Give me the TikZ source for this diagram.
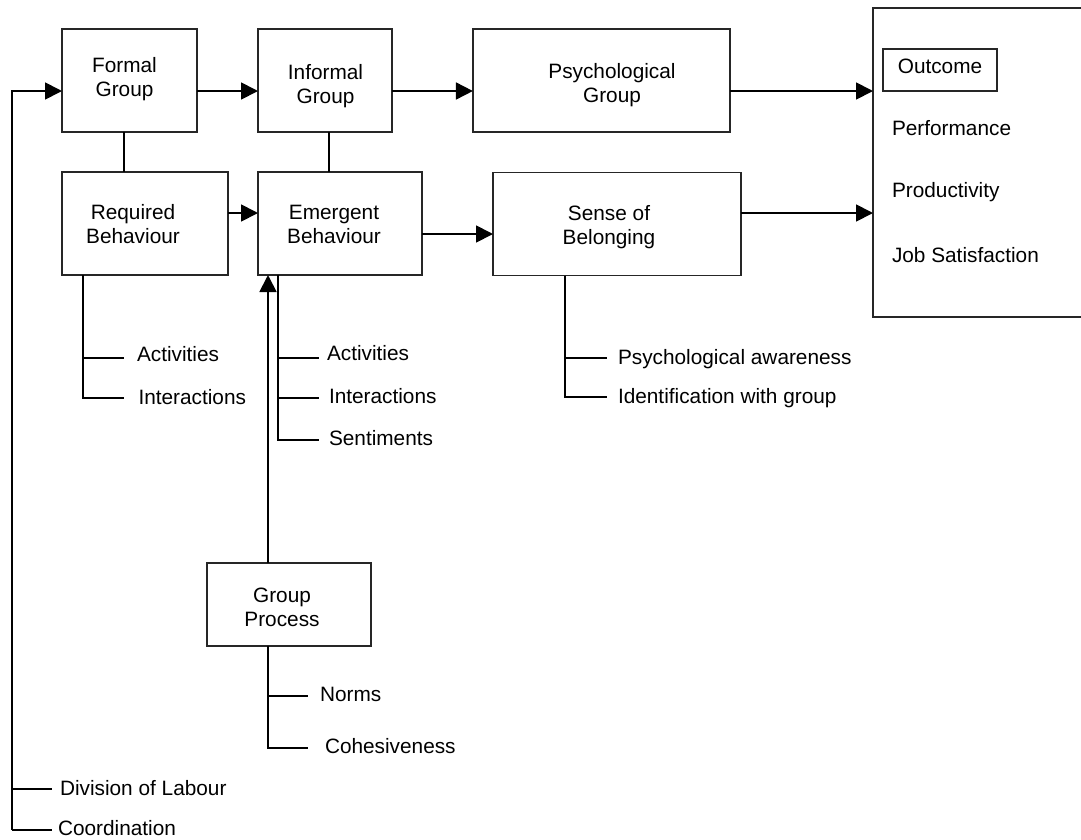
\documentclass[tikz,border=0pt]{standalone}
\usepackage{fontspec}
\setmainfont{Liberation Sans}
\usetikzlibrary{arrows.meta}
\newcommand\lp{\vphantom{Ag}}
\begin{document}
\begin{tikzpicture}[x=1pt,y=-1pt,
  every node/.style={font=\fontsize{20.8}{24}\selectfont, inner sep=0pt, outer sep=0pt},
  box/.style={draw, line width=1.3pt, color=black!85},
  ln/.style={line width=1.8pt},
  arr/.style={line width=1.8pt, -{Triangle[length=17pt,width=17pt]}},
  lbl/.style={anchor=base west},
  two/.style={align=center, anchor=center}]
\useasboundingbox (0,0) rectangle (1081,839);

% boxes
\node[box, minimum width=135pt, minimum height=103pt] (formal) at (129.5,80.5) {};
\node[box, minimum width=134pt, minimum height=103pt] (informal) at (325,80.5) {};
\node[box, minimum width=257pt, minimum height=103pt] (psych) at (601.4,80.5) {};
\node[box, minimum width=166pt, minimum height=103pt] (required) at (145,223.5) {};
\node[box, minimum width=164pt, minimum height=103pt] (emergent) at (340,223.5) {};
\node[box, minimum width=248pt, minimum height=103pt] (sense) at (617,224.2) {};
\node[box, minimum width=164pt, minimum height=83pt] (group) at (289,604.5) {};
\node[box, minimum width=210pt, minimum height=309pt] (outcome) at (978,162.5) {};
\node[box, minimum width=114pt, minimum height=42pt] (outhead) at (940,70) {};

% box texts
\node[two] (formal-t) at (124.5,79.4) {\lp Formal\\\lp Group};
\node[two] (informal-t) at (325.5,86) {\lp Informal\\\lp Group};
\node[two] (psych-t) at (612,84.8) {\lp Psychological\\\lp Group};
\node[two] (required-t) at (133,226) {\lp Required\\\lp Behaviour};
\node[two] (emergent-t) at (334,226.8) {\lp Emergent\\\lp Behaviour};
\node[two] (sense-t) at (609,227.3) {\lp Sense of\\\lp Belonging};
\node[two] (group-t) at (282,609.5) {\lp Group\\\lp Process};
\node[anchor=base] (outhead-t) at (940,73.5) {Outcome};
\node[lbl] (perf) at (892,135) {Performance};
\node[lbl] (prod) at (892,197) {Productivity};
\node[lbl] (jobs) at (892,262) {Job Satisfaction};

% helper coordinates
\coordinate (yTop) at (0,91);
\coordinate (yMid) at (0,213);
\coordinate (yES) at (0,234);
\coordinate (xFR) at (124,0);
\coordinate (xIE) at (329,0);
\coordinate (xRq) at (83,0);
\coordinate (xEm) at (278,0);
\coordinate (xUp) at (268,0);
\coordinate (xSe) at (565,0);
\coordinate (xGp) at (268,0);

% main arrows
\draw[arr] (formal.east |- yTop) -- (informal.west |- yTop);
\draw[arr] (informal.east |- yTop) -- (psych.west |- yTop);
\draw[arr] (psych.east |- yTop) -- (outcome.west |- yTop);
\draw[arr] (required.east |- yMid) -- (emergent.west |- yMid);
\draw[arr] (emergent.east |- yES) -- (sense.west |- yES);
\draw[arr] (sense.east |- yMid) -- (outcome.west |- yMid);
\draw[arr] (group.north -| xUp) -- (emergent.south -| xUp);

% vertical links
\draw[ln] (formal.south -| xFR) -- (required.north -| xFR);
\draw[ln] (informal.south -| xIE) -- (emergent.north -| xIE);

% required behaviour branches
\coordinate (rq1) at (124,358);
\coordinate (rq2) at (124,398);
\draw[ln] (required.south -| xRq) |- (rq1);
\draw[ln] (required.south -| xRq) |- (rq2);
\node[lbl] (rq-act) at (137,361.7) {Activities};
\node[lbl] (rq-int) at (138.5,404) {Interactions};

% emergent behaviour branches
\coordinate (em1) at (319,358);
\coordinate (em2) at (319,398);
\coordinate (em3) at (319,440);
\draw[ln] (emergent.south -| xEm) |- (em1);
\draw[ln] (emergent.south -| xEm) |- (em2);
\draw[ln] (emergent.south -| xEm) |- (em3);
\node[lbl] (em-act) at (327,360.5) {Activities};
\node[lbl] (em-int) at (329,403.3) {Interactions};
\node[lbl] (em-sen) at (329,445) {Sentiments};

% sense of belonging branches
\coordinate (se1) at (607,358);
\coordinate (se2) at (607,397);
\draw[ln] (sense.south -| xSe) |- (se1);
\draw[ln] (sense.south -| xSe) |- (se2);
\node[lbl] (se-aw) at (618,364) {Psychological awareness};
\node[lbl] (se-id) at (618,403.3) {Identification with group};

% group process branches
\coordinate (gp1) at (308,696);
\coordinate (gp2) at (308,748);
\draw[ln] (group.south -| xGp) |- (gp1);
\draw[ln] (group.south -| xGp) |- (gp2);
\node[lbl] (gp-norms) at (320,701) {Norms};
\node[lbl] (gp-coh) at (325,753.3) {Cohesiveness};

% left feedback line
\coordinate (lstart) at (12,830);
\coordinate (lb1) at (12,789);
\coordinate (lb1e) at (52,789);
\coordinate (lb2e) at (52,830);
\draw[arr] (lstart) |- (formal.west |- yTop);
\draw[ln] (lb1) -- (lb1e);
\draw[ln] (lstart) -- (lb2e);
\node[lbl] (div) at (60,795.7) {Division of Labour};
\node[lbl] (coord) at (58,835) {Coordination};
\end{tikzpicture}
\end{document}
